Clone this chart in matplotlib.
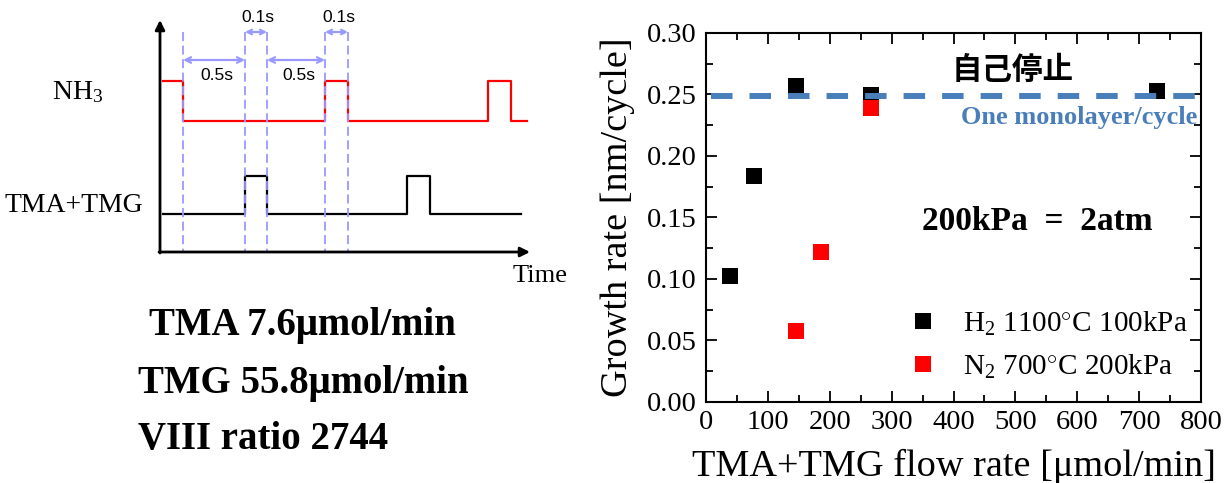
import numpy as np
import matplotlib
matplotlib.use('Agg')
import matplotlib.pyplot as plt
from matplotlib.lines import Line2D

plt.rcParams['font.family'] = ['Liberation Serif', 'DejaVu Serif']
plt.rcParams['mathtext.fontset'] = 'custom'
plt.rcParams['mathtext.rm'] = 'Liberation Serif'
plt.rcParams['mathtext.it'] = 'Liberation Serif:italic'

# growth rate data
h2_flow = [39, 77, 146, 266, 729]
h2_rate = [0.102, 0.184, 0.257, 0.2495, 0.253]
n2_flow = [145, 186, 266]
n2_rate = [0.0575, 0.122, 0.239]
monolayer = 0.249

x_ticks = [0, 100, 200, 300, 400, 500, 600, 700, 800]
y_ticks = [0.00, 0.05, 0.10, 0.15, 0.20, 0.25, 0.30]

# pulse diagram (schematic units)
nh3_edges = [163, 183, 325, 348, 488, 511, 527]
nh3_level = [1, 0, 1, 0, 1, 0, 0]
tma_edges = [163, 245, 267, 407, 430, 521]
tma_level = [0, 1, 0, 1, 0, 0]
guide_x = [183, 245, 267, 325, 348]
spans = [(183, 245, '0.5s'), (267, 325, '0.5s')]
short_spans = [(245, 267, '0.1s'), (325, 348, '0.1s')]

W, H = 1231, 483
fig = plt.figure(figsize=(W / 100, H / 100), dpi=100)

# ---- left: pulse sequence ----
ax0 = fig.add_axes([0, 0, 600 / W, 1])
ax0.set_xlim(0, 600)
ax0.set_ylim(H, 0)
ax0.axis('off')

guide_c = '#9999ff'
nh3_y = [121 - 40 * v for v in nh3_level]
tma_y = [214 - 38 * v for v in tma_level]
ax0.step(nh3_edges, nh3_y, where='post', color='red', lw=1.6, zorder=2)
ax0.step(tma_edges, tma_y, where='post', color='black', lw=1.6, zorder=2)
for gx in guide_x:
    ax0.plot([gx, gx], [32, 252], color=guide_c, lw=1.3, ls=(0, (5, 2.5)), zorder=3)
for a, b, lab in spans:
    ax0.annotate('', xy=(a, 60), xytext=(b, 60),
                 arrowprops=dict(arrowstyle='<->', color=guide_c, lw=1.6, shrinkA=0, shrinkB=0))
    ax0.text((a + b) / 2 + 3, 75, lab, ha='center', va='center', fontsize=12.5,
             family='Liberation Sans')
for a, b, lab in short_spans:
    ax0.annotate('', xy=(a, 32), xytext=(b, 32),
                 arrowprops=dict(arrowstyle='<->', color=guide_c, lw=1.6, shrinkA=0, shrinkB=0,
                                 mutation_scale=8))
    ax0.text((a + b) / 2 + 2, 18, lab, ha='center', va='center', fontsize=12.5,
             family='Liberation Sans')

# axes arrows
ax0.annotate('', xy=(160, 20), xytext=(160, 253),
             arrowprops=dict(arrowstyle='-|>', color='k', lw=2, mutation_scale=14, shrinkA=0, shrinkB=0))
ax0.annotate('', xy=(530, 252), xytext=(159, 252),
             arrowprops=dict(arrowstyle='-|>', color='k', lw=2, mutation_scale=14, shrinkA=0, shrinkB=0))

ax0.text(78, 92, 'NH$_3$', ha='center', va='center', fontsize=20)
ax0.text(74, 205, 'TMA+TMG', ha='center', va='center', fontsize=20)
ax0.text(540, 276, 'Time', ha='center', va='center', fontsize=19)

ax0.text(140, 325, ' TMA 7.6\u03bcmol/min', ha='left', va='center', fontsize=28, fontweight='bold')
ax0.text(138, 383, 'TMG 55.8\u03bcmol/min', ha='left', va='center', fontsize=28, fontweight='bold')
ax0.text(138, 440, 'VIII ratio 2744', ha='left', va='center', fontsize=28, fontweight='bold')

# ---- right: growth rate ----
ax = fig.add_axes([706 / W, (H - 401.7) / H, 495 / W, 368.7 / H])
ax.plot(h2_flow, h2_rate, 's', color='black', ms=11.5, mew=0, zorder=2)
ax.plot(n2_flow, n2_rate, 's', color='red', ms=11.5, mew=0, zorder=2)
ax.axhline(monolayer, xmin=0.01, xmax=0.99, color='#4a7ebb', lw=4.3,
           ls=(0, (3.6, 2.85)), zorder=3)

ax.set_xlim(0, 800)
ax.set_ylim(0, 0.30)
ax.set_xticks(x_ticks)
ax.set_yticks(y_ticks)
ax.set_yticklabels([f'{v:.2f}' for v in y_ticks])
ax.set_xticks(np.arange(50, 800, 100), minor=True)
ax.set_yticks(np.arange(0.025, 0.30, 0.05), minor=True)
ax.tick_params(which='both', direction='in', top=True, right=True, width=1.3, labelsize=20.5)
ax.tick_params(which='major', length=8)
ax.tick_params(which='minor', length=5)
ax.tick_params(axis='y', pad=7)
ax.tick_params(axis='x', pad=6)
for s in ax.spines.values():
    s.set_linewidth(1.5)

ax.set_xlabel('TMA+TMG flow rate [\u03bcmol/min]', fontsize=27.5, labelpad=10)
ax.set_ylabel('Growth rate [nm/cycle]', fontsize=27.5, labelpad=8)

ax.text(0.62, 0.9, '自己停止', transform=ax.transAxes, ha='center', va='center',
        fontsize=22, fontweight='bold', family=['Noto Sans CJK JP'])
ax.text(0.993, 0.77, 'One monolayer/cycle', transform=ax.transAxes, ha='right', va='center',
        fontsize=19, fontweight='bold', color='#4a7ebb')
ax.text(0.67, 0.49, '200kPa  =  2atm', transform=ax.transAxes, ha='center', va='center',
        fontsize=24, fontweight='bold')

handles = [Line2D([], [], ls='none', marker='s', color='black', ms=11.5, mew=0),
           Line2D([], [], ls='none', marker='s', color='red', ms=11.5, mew=0)]
labels = ['H$_2$ 1100$^{\\circ}$C 100kPa', 'N$_2$ 700$^{\\circ}$C 200kPa']
ax.legend(handles, labels, loc='upper left', bbox_to_anchor=(0.408, 0.25), frameon=False,
          fontsize=21, handlelength=1.0, handletextpad=0.9, labelspacing=0.5,
          borderpad=0, borderaxespad=0)

fig.savefig('out.png', dpi=100)
